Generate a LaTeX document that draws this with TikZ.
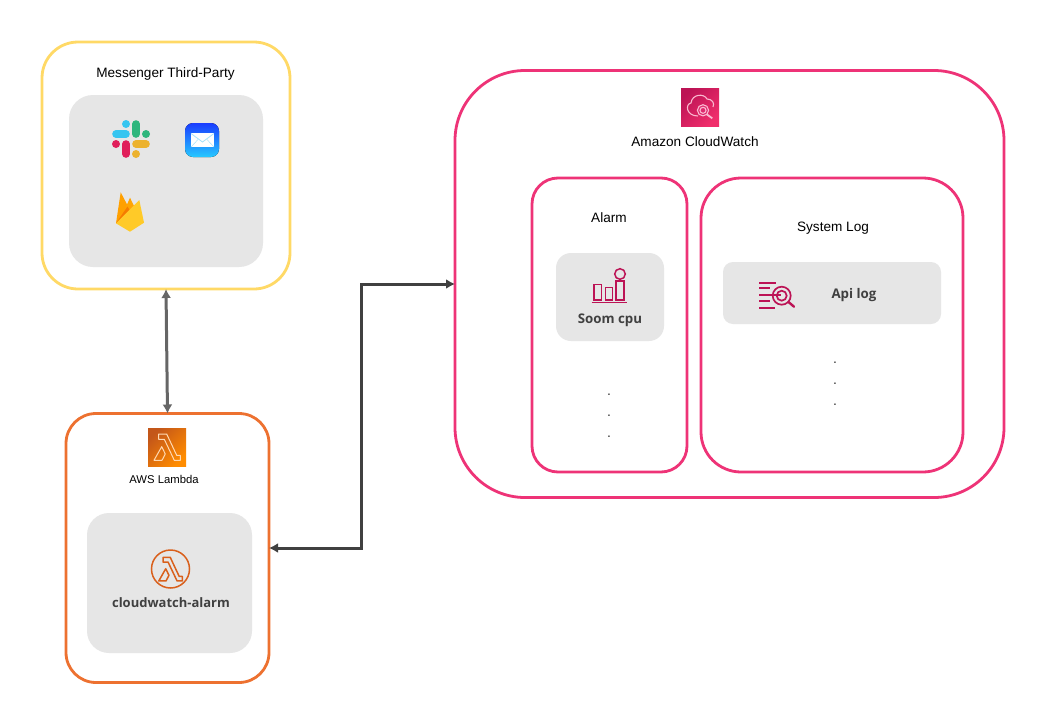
\documentclass[tikz,border=0pt]{standalone}
\usepackage{fontspec}
\setmainfont{Liberation Sans}
\newfontfamily\boldlabel{Open Sans}
\usetikzlibrary{arrows.meta}

\definecolor{messengerline}{HTML}{FFD966}
\definecolor{lambdaline}{HTML}{ED7130}
\definecolor{watchline}{HTML}{EE3377}
\definecolor{panelgrey}{HTML}{E6E6E6}
\definecolor{watchicon}{HTML}{BC1355}
\definecolor{lambdaicon}{HTML}{D9601C}
\definecolor{slackblue}{HTML}{36C5F0}
\definecolor{slackgreen}{HTML}{2EB67D}
\definecolor{slackred}{HTML}{E01E5A}
\definecolor{slackyellow}{HTML}{ECB22E}
\definecolor{fireyellow}{HTML}{FFCA28}
\definecolor{firemid}{HTML}{FFA000}
\definecolor{firedark}{HTML}{F57C00}

\tikzset{
	groupbox/.style = {draw, line width = 2.8 pt, fill = white, outer sep = 0 pt, inner sep = 0 pt},
	panel/.style = {fill = panelgrey, outer sep = 0 pt, inner sep = 0 pt},
	plainlabel/.style = {text = black, inner sep = 0 pt, font = \fontsize{13.6}{15}\selectfont},
	boldtext/.style = {text = black!75, inner sep = 0 pt, font = \fontsize{13.3}{15}\boldlabel\bfseries},
	dotmark/.style = {text = black!80, inner sep = 0 pt, font = \fontsize{14}{14}\selectfont},
	lambdaglyph/.pic = {
		\draw [line join = round, pic actions]
			(-8.3, -13) -- (-0.3, -13) -- (9.7, 8.3) -- (13.3, 8.3) -- (13.3, 13.3) -- (7.3, 13.3)
			-- (-2.7, -7.7) -- (-8.3, -7.7) -- cycle;
		\draw [line join = round, pic actions]
			(-13, 13.3) -- (-5.3, -0.3) -- (-1.7, 7) -- (-5, 13.3) -- cycle;
	}
}

\begin{document}
\begin{tikzpicture}[x = 1 pt, y = -1 pt]

	\useasboundingbox (0, 0) rectangle (1058, 718);

	% Group boxes

	\node (messenger) at (166, 165.5) [groupbox, draw = messengerline, rounded corners = 36 pt,
		minimum width = 248 pt, minimum height = 247 pt] {};
	\node (lambda) at (167.5, 548) [groupbox, draw = lambdaline, rounded corners = 30 pt,
		minimum width = 203 pt, minimum height = 269 pt] {};
	\node (watch) at (729.5, 284) [groupbox, draw = watchline, rounded corners = 70 pt,
		minimum width = 549 pt, minimum height = 427 pt] {};
	\node (alarm) at (609.5, 325) [groupbox, draw = watchline, rounded corners = 26 pt,
		minimum width = 155 pt, minimum height = 294 pt] {};
	\node (syslog) at (832, 325) [groupbox, draw = watchline, rounded corners = 40 pt,
		minimum width = 262 pt, minimum height = 294 pt] {};

	% Grey panels

	\node (chatpanel) at (166, 181) [panel, rounded corners = 24 pt,
		minimum width = 194 pt, minimum height = 172 pt] {};
	\node (funcpanel) at (169.5, 583) [panel, rounded corners = 22 pt,
		minimum width = 165 pt, minimum height = 140 pt] {};
	\node (cpupanel) at (610, 297) [panel, rounded corners = 15 pt,
		minimum width = 108 pt, minimum height = 88 pt] {};
	\node (logpanel) at (832, 293) [panel, rounded corners = 10 pt,
		minimum width = 218 pt, minimum height = 62 pt] {};

	% Labels

	\node (messengerlabel) at (165.5, 73.5) [plainlabel] {Messenger Third-Party};
	\node (lambdalabel) at (164, 479.5) [plainlabel, font = \fontsize{11.3}{13}\selectfont] {AWS Lambda};
	\node (watchlabel) at (695, 142) [plainlabel] {Amazon CloudWatch};
	\node (alarmlabel) at (609, 218) [plainlabel] {Alarm};
	\node (sysloglabel) at (833, 228) [plainlabel] {System Log};
	\node (cpulabel) at (610, 320) [boldtext] {Soom cpu};
	\node (funclabel) at (171, 603) [boldtext, font = \fontsize{13}{15}\boldlabel\bfseries] {cloudwatch-alarm};
	\node (apilabel) at (854, 295) [boldtext] {Api log};

	\foreach \y in {392, 413, 434}
		\node (alarmdot\y) at (609, \y + 2.5) [dotmark] {.};
	\foreach \y in {360, 381, 402}
		\node (logdot\y) at (835, \y + 2.5) [dotmark] {.};

	% Connectors

	\coordinate (elbow) at (361, 400);

	\draw [{Latex[length=9pt,width=10pt]}-{Latex[length=9pt,width=10pt]}, line width = 3 pt, black!60]
		(messenger.south) -- (lambda.north);
	\draw [{Latex[length=9pt,width=10pt]}-{Latex[length=9pt,width=10pt]}, line width = 3 pt, black!75]
		(lambda.east) -| (elbow) |- (watch.west);

	% Slack

	\begin{scope}[line cap = round, line width = 7.6 pt]
		\draw [slackblue] (116, 134) -- (126, 134);
		\draw [slackgreen] (136, 124) -- (136, 134);
		\draw [slackred] (126, 144) -- (126, 154);
		\draw [slackyellow] (136, 144) -- (146, 144);
	\end{scope}
	\fill [slackblue] (126, 124) circle (4 pt);
	\fill [slackgreen] (146, 134) circle (4 pt);
	\fill [slackred] (116, 144) circle (4 pt);
	\fill [slackyellow] (136, 154) circle (4 pt);

	% Mail

	\fill [rounded corners = 8 pt, top color = blue!85!cyan!90!white, bottom color = cyan!75!blue!85!white]
		(185, 123) rectangle (219, 157);
	\fill [white] (191, 133) rectangle (214, 147);
	\draw [line width = 0.8 pt, cyan!35!white] (191, 133.5) -- (202.5, 142) -- (214, 133.5);
	\draw [line width = 0.5 pt, cyan!35!white] (191, 147) -- (198, 139.5) (214, 147) -- (207, 139.5);

	% Firebase

	\fill [firemid] (116, 223.3) -- (120.7, 192.3) -- (131, 212) -- cycle;
	\fill [firemid!90!fireyellow] (122, 216) -- (130, 197.7) -- (136, 210) -- (125, 226) -- cycle;
	\fill [firedark] (116, 223.3) -- (127.5, 206.5) -- (132, 214) -- cycle;
	\fill [fireyellow] (116, 223.3) -- (139.3, 200) -- (144, 222.7) -- (130, 231.7) -- cycle;

	% Lambda icons

	\fill [left color = lambdaicon!90!black, right color = orange!90!yellow, shading angle = 45]
		(148, 428) rectangle (186, 466);
	\pic [draw = white!70!orange, line width = 1 pt] at (167, 447) {lambdaglyph};
	\draw [line width = 1.5 pt, lambdaicon] (170.5, 569) circle (19 pt);
	\pic [line width = 1.5 pt, draw = lambdaicon, scale = 0.9] at (170.5, 569) {lambdaglyph};

	% CloudWatch icon

	\fill [left color = watchicon, right color = watchline!90!red, shading angle = 45]
		(681, 88) rectangle (719, 126);
	\begin{scope}[white!65!watchline, line width = 1.1 pt]
		\draw (698, 116) .. controls (686, 116) and (685, 104) .. (691, 103)
			.. controls (692, 94) and (704, 93) .. (707, 99)
			.. controls (712, 99) and (715, 103) .. (713, 107);
		\draw [fill = watchline!70!watchicon] (703, 110.3) circle (5.6 pt);
		\draw (703, 110.3) circle (3 pt);
		\draw [line width = 1.8 pt] (707, 114.5) -- (712.3, 118.3);
	\end{scope}

	% Alarm icon

	\begin{scope}[watchicon, line width = 1.5 pt]
		\draw (594, 284.3) rectangle (601.7, 300);
		\draw (605.3, 287.7) rectangle (612.7, 300);
		\draw (616, 281) rectangle (624, 300);
		\draw (591.7, 302.7) -- (626.7, 302.7);
		\draw [fill = panelgrey] (620, 274) circle (5.3 pt);
	\end{scope}

	% Log icon

	\begin{scope}[watchicon, line width = 1.7 pt]
		\draw (759.3, 282.7) -- (775.7, 282.7);
		\draw (759.3, 288.3) -- (770, 288.3);
		\draw (759.3, 295) -- (781, 295);
		\draw (759.3, 301) -- (770, 301);
		\draw (759.3, 307.7) -- (775, 307.7);
		\draw (781.7, 295.7) circle (9 pt);
		\draw (781.7, 295.7) circle (5 pt);
		\draw [line width = 2.4 pt, line cap = round] (788.5, 302) -- (794, 306.7);
	\end{scope}

\end{tikzpicture}
\end{document}
